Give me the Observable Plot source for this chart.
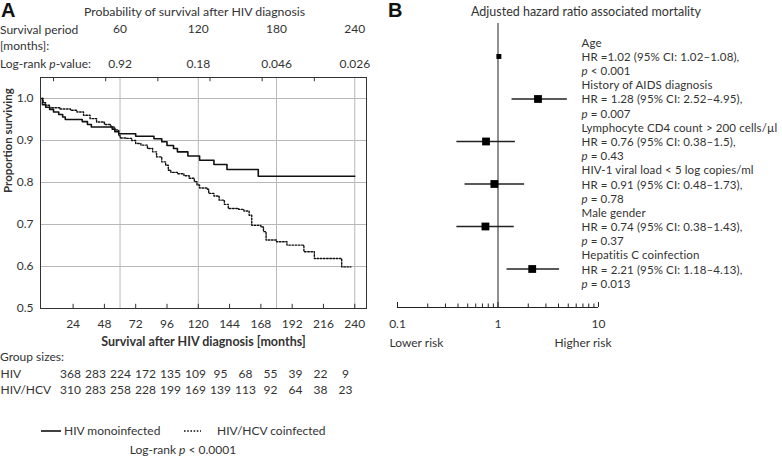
<!DOCTYPE html>
<html><head><meta charset="utf-8">
<script src="https://cdn.jsdelivr.net/npm/d3@7"></script>
<script src="https://cdn.jsdelivr.net/npm/@observablehq/plot@0.6"></script>
<style>
body{margin:0;background:#fff;}
#wrap{position:relative;width:782px;height:457px;overflow:hidden;font-family:Lato,sans-serif;color:#333;font-size:12px;}
.abs{position:absolute;white-space:nowrap;line-height:14px;}
.c{transform:translateX(-50%);}
.big{font-family:"Liberation Sans",Arial,sans-serif;font-weight:bold;font-size:20px;line-height:20px;color:#111;}
</style></head><body><div id="wrap"></div><script>
// ---------- Panel A data ----------
const titleA = "Probability of survival after HIV diagnosis";
const periodMonths = [60, 120, 180, 240];
const periodP = ["0.92", "0.18", "0.046", "0.026"];
const xTicks = [24, 48, 72, 96, 120, 144, 168, 192, 216, 240];
const topTicks = [9, 49, 89, 129, 169, 209];
const gridMonths = [60, 120, 180, 240];
const yTicks = [0.5, 0.6, 0.7, 0.8, 0.9, 1.0];
const gridY = [0.6, 0.7, 0.8, 0.9, 1.0];
const xLabel = "Survival after HIV diagnosis [months]";
const yLabel = "Proportion surviving";

const hivT = [0, 0.5, 3, 6, 9, 13, 16, 18, 31, 35, 38, 54, 56, 59, 72, 86, 92, 96, 101, 104, 112, 121, 132, 142, 166, 240];
const hivS = [1.0, 0.985, 0.979, 0.974, 0.968, 0.962, 0.956, 0.950, 0.945, 0.938, 0.932, 0.927, 0.921, 0.916, 0.910, 0.904, 0.897, 0.888, 0.881, 0.873, 0.863, 0.853, 0.843, 0.831, 0.815, 0.815];
const hcvT = [0, 1, 3, 6, 14, 22, 27, 32, 37, 42, 48, 53, 56, 59, 60, 65, 69, 72, 76, 81, 85, 88, 92, 95, 97, 99, 104, 109, 113, 117, 119, 121, 127, 128, 132, 136, 140, 143, 151, 155, 159, 161, 168, 170, 172, 180, 188, 201, 209, 230, 237];
const hcvS = [1.0, 0.99, 0.984, 0.978, 0.975, 0.972, 0.968, 0.96, 0.952, 0.944, 0.938, 0.932, 0.925, 0.913, 0.906, 0.905, 0.9, 0.893, 0.889, 0.881, 0.873, 0.861, 0.849, 0.841, 0.829, 0.824, 0.821, 0.816, 0.81, 0.802, 0.794, 0.787, 0.784, 0.774, 0.768, 0.758, 0.748, 0.738, 0.736, 0.732, 0.722, 0.698, 0.694, 0.683, 0.663, 0.659, 0.651, 0.635, 0.619, 0.599, 0.599];

const groupRows = ["HIV", "HIV/HCV"];
const hivSizes = [368, 283, 224, 172, 135, 109, 95, 68, 55, 39, 22, 9];
const hcvSizes = [310, 283, 258, 228, 199, 169, 139, 113, 92, 64, 38, 23];
const seriesNames = ["HIV monoinfected", "HIV/HCV coinfected"];

// ---------- Panel B data ----------
const titleB = "Adjusted hazard ratio associated mortality";
const factors = ["Age", "History of AIDS diagnosis", "Lymphocyte CD4 count > 200 cells/µl", "HIV-1 viral load < 5 log copies/ml", "Male gender", "Hepatitis C coinfection"];
const hrLabel = ["HR =1.02 (95% CI: 1.02–1.08),", "HR = 1.28 (95% CI: 2.52–4.95),", "HR = 0.76 (95% CI: 0.38–1.5),", "HR = 0.91 (95% CI: 0.48–1.73),", "HR = 0.74 (95% CI: 0.38–1.43),", "HR = 2.21 (95% CI: 1.18–4.13),"];
const pLabel = ["p < 0.001", "p = 0.007", "p = 0.43", "p = 0.78", "p = 0.37", "p = 0.013"];
const hrPlot = [1.02, 2.5, 0.76, 0.92, 0.75, 2.19];
const loPlot = [1.02, 1.38, 0.39, 0.47, 0.39, 1.23];
const hiPlot = [1.08, 4.9, 1.49, 1.84, 1.45, 4.1];
const majorTicks = [0.1, 1, 10];
const minorTicks = [0.2, 0.3, 0.4, 0.5, 0.6, 0.7, 0.8, 0.9, 2, 3, 4, 5, 6, 7, 8, 9];
const riskLabels = ["Lower risk", "Higher risk"];

// ---------- build ----------
const FONT = "Lato, sans-serif";
const ink = "#333";
const wrap = document.getElementById("wrap");
const baseStyle = (l, t) => ({position: "absolute", left: l + "px", top: t + "px", fontFamily: FONT, fontSize: "12px", color: ink, background: "transparent", overflow: "visible"});

const plotA = Plot.plot({
  width: 385, height: 350,
  marginLeft: 40, marginRight: 19, marginTop: 77, marginBottom: 42,
  style: baseStyle(0, 0),
  x: {domain: [-1, 249]},
  y: {domain: [0.5, 1.05]},
  marks: [
    Plot.gridY(gridY, {stroke: "#b8b8b8", strokeOpacity: 1}),
    Plot.gridX(gridMonths, {stroke: "#b8b8b8", strokeOpacity: 1}),
    Plot.ruleX(xTicks, {x: d => d, y1: 0.5, y2: 0.51, stroke: ink}),
    Plot.ruleX(topTicks, {x: d => d, y1: 1.05, y2: 1.04, stroke: ink}),
    Plot.frame({stroke: ink, strokeWidth: 1}),
    Plot.axisX(xTicks, {tickSize: 0, tickPadding: 11, label: null}),
    Plot.axisY(yTicks, {tickSize: 0, tickPadding: 7, tickFormat: ".1f", label: null}),
    Plot.text([xLabel], {frameAnchor: "bottom", lineAnchor: "middle", dy: 33, fontWeight: "bold", fontSize: 12.5}),
    Plot.text([yLabel], {frameAnchor: "left", dx: -32.5, rotate: -90, fontWeight: "bold", fontSize: 11.5}),
    Plot.text([titleA], {frameAnchor: "top", lineAnchor: "middle", dx: -9, dy: -65, fontSize: 12.3}),
    Plot.text(periodMonths, {x: d => d, frameAnchor: "top", lineAnchor: "middle", dy: -48, text: d => String(d)}),
    Plot.text(periodMonths, {x: d => d, frameAnchor: "top", lineAnchor: "middle", dy: -13, text: (d, i) => periodP[i]}),
    Plot.line(hcvT, {x: d => d, y: (d, i) => hcvS[i], curve: "step-after", stroke: "#111", strokeWidth: 1.4, strokeDasharray: "1.6,1.6"}),
    Plot.line(hivT, {x: d => d, y: (d, i) => hivS[i], curve: "step-after", stroke: "#111", strokeWidth: 1.6})
  ]
});
wrap.appendChild(plotA);

const sizeData = [];
groupRows.forEach((r, ri) => (ri === 0 ? hivSizes : hcvSizes).forEach((v, i) => sizeData.push({row: r, col: i, v})));
const plotG = Plot.plot({
  width: 385, height: 34,
  marginLeft: 70, marginRight: 40, marginTop: 10, marginBottom: 8,
  style: baseStyle(0, 364),
  x: {domain: [0, 11], axis: null},
  y: {type: "point", domain: groupRows, padding: 0, axis: null},
  marks: [
    Plot.text(groupRows, {y: d => d, frameAnchor: "left", dx: -70, textAnchor: "start"}),
    Plot.text(sizeData, {x: "col", y: "row", text: d => String(d.v)})
  ]
});
wrap.appendChild(plotG);

const rows = factors.map((f, i) => ({i, hr: hrPlot[i], lo: loPlot[i], hi: hiPlot[i], txt: f + "\n" + hrLabel[i] + "\n" + pLabel[i]}));
const yTop = -0.776, yBot = 5.906, pxPerRow = 42.5;
const plotB = Plot.plot({
  width: 397, height: 350,
  marginLeft: 12, marginRight: 184, marginTop: 23, marginBottom: 43,
  style: baseStyle(385, 0),
  x: {type: "log", domain: [0.1, 10]},
  y: {domain: [yBot, yTop], axis: null},
  marks: [
    Plot.ruleX([1], {x: d => d, stroke: "#222"}),
    Plot.ruleY([yBot], {y: d => d, stroke: "#222"}),
    Plot.ruleX(majorTicks, {x: d => d, y1: yBot, y2: yBot - 5 / pxPerRow, stroke: "#222"}),
    Plot.ruleX(minorTicks, {x: d => d, y1: yBot, y2: yBot - 3.5 / pxPerRow, stroke: "#222"}),
    Plot.axisX(majorTicks, {tickSize: 0, tickPadding: 12, tickFormat: d => String(d), label: null}),
    Plot.ruleY(rows, {y: "i", x1: "lo", x2: "hi", stroke: "#222", strokeWidth: 1.6}),
    Plot.dot(rows.filter(d => d.i === 0), {x: "hr", y: "i", symbol: "square", fill: "#000", stroke: "none", r: 2.8}),
    Plot.dot(rows.filter(d => d.i > 0), {x: "hr", y: "i", symbol: "square", fill: "#000", stroke: "none", r: 4.4}),
    Plot.text(rows, {y: "i", frameAnchor: "right", dx: -17, textAnchor: "start", text: "txt", lineAnchor: "middle", lineHeight: 1.225, fontSize: 11.5, fill: ink}),
    Plot.text([riskLabels[0]], {frameAnchor: "bottom-left", lineAnchor: "middle", dx: -8, dy: 36, textAnchor: "start"}),
    Plot.text([riskLabels[1]], {x: d => 10, frameAnchor: "bottom", lineAnchor: "middle", dx: -15.5, dy: 36})
  ]
});
wrap.appendChild(plotB);

// italic "p" in the p-value lines; slight tracking on the multi-line labels
d3.select(plotB).selectAll("text").each(function () {
  if (this.querySelectorAll("tspan").length === 3) this.style.letterSpacing = "0.12px";
});
d3.select(plotB).selectAll("tspan").each(function () {
  const t = this.textContent;
  if (/^p [<=]/.test(t)) {
    this.textContent = "";
    d3.select(this).append("tspan").attr("font-style", "italic").text("p");
    d3.select(this).append("tspan").text(t.slice(1));
  }
});

// HTML labels
const html = `
<div class="abs big" style="left:1px;top:0px;">A</div>
<div class="abs big" style="left:388px;top:0px;">B</div>
<div class="abs c" style="left:586px;top:5px;font-size:12.5px;">${titleB}</div>
<div class="abs" style="left:0px;top:23px;">Survival period</div>
<div class="abs" style="left:0px;top:39px;">[months]:</div>
<div class="abs" style="left:0px;top:57px;">Log-rank <i>p</i>-value:</div>
<div class="abs" style="left:0px;top:350px;">Group sizes:</div>
<div class="abs" style="left:41px;top:424px;"><svg width="20" height="14" style="vertical-align:top"><line x1="0" x2="20" y1="7" y2="7" stroke="#111" stroke-width="1.6"/></svg> ${seriesNames[0]}</div>
<div class="abs" style="left:184px;top:424px;"><svg width="17" height="14" style="vertical-align:top;margin-right:16px"><line x1="0" x2="17" y1="7" y2="7" stroke="#111" stroke-width="1.4" stroke-dasharray="1.6,1.6"/></svg>${seriesNames[1]}</div>
<div class="abs c" style="left:183px;top:443px;">Log-rank <i>p</i> &lt; 0.0001</div>
`;
wrap.insertAdjacentHTML("beforeend", html);
</script></body></html>
